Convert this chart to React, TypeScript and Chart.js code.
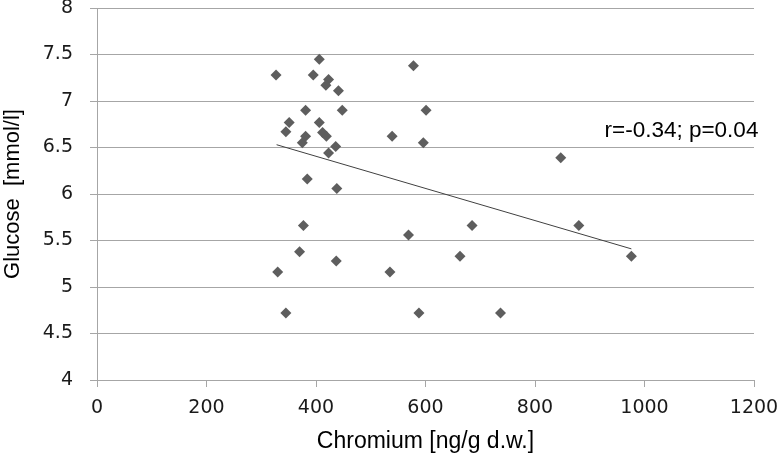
import React, { useEffect, useRef } from "react";
import { Chart, registerables } from "chart.js";

Chart.register(...registerables);

const chromium = [327, 406, 395, 423, 418, 441, 381, 448, 351, 406, 345, 381, 375, 412, 419, 436, 423, 384, 438, 377, 370, 330, 437, 345, 535, 578, 601, 539, 596, 847, 569, 685, 880, 663, 976, 588, 737];
const glucose = [7.28, 7.45, 7.28, 7.23, 7.17, 7.11, 6.9, 6.9, 6.77, 6.77, 6.67, 6.62, 6.55, 6.66, 6.62, 6.51, 6.44, 6.16, 6.06, 5.66, 5.38, 5.16, 5.28, 4.72, 5.16, 7.38, 6.9, 6.62, 6.55, 6.39, 5.56, 5.66, 5.66, 5.33, 5.33, 4.72, 4.72];
const trendX = [328, 976];
const trendY = [6.53, 5.41];
const xTickValues = [0, 200, 400, 600, 800, 1000, 1200];
const yTickValues = [4, 4.5, 5, 5.5, 6, 6.5, 7, 7.5, 8];
const statsText = "r=-0.34; p=0.04";
const xTitle = "Chromium [ng/g d.w.]";
const yTitle = "Glucose  [mmol/l]";

const GRID = "#a6a6a6";

const annotationPlugin = {
  id: "statsLabel",
  afterDatasetsDraw(chart: any) {
    const { ctx, scales } = chart;
    const x = scales.x.getPixelForValue(927);
    const y = scales.y.getPixelForValue(6.68);
    ctx.save();
    ctx.font = "22.5px 'Liberation Sans', Arial, sans-serif";
    ctx.fillStyle = "#000";
    ctx.textAlign = "left";
    ctx.textBaseline = "middle";
    ctx.fillText(statsText, x, y);
    ctx.restore();
  },
};

export default function App() {
  const ref = useRef<HTMLCanvasElement | null>(null);

  useEffect(() => {
    if (!ref.current) return;
    const points = chromium.map((c, i) => ({ x: c, y: glucose[i] }));
    const trend = trendX.map((c, i) => ({ x: c, y: trendY[i] }));
    const chart = new Chart(ref.current, {
      type: "scatter",
      data: {
        datasets: [
          {
            label: "data",
            data: points,
            pointStyle: "rectRot",
            pointRadius: 5.5,
            pointBackgroundColor: "#5e5e5e",
            pointBorderColor: "#5e5e5e",
            pointBorderWidth: 0,
            showLine: false,
          },
          {
            label: "trend",
            data: trend,
            showLine: true,
            borderColor: "#404040",
            borderWidth: 1,
            pointRadius: 0,
            fill: false,
          },
        ],
      },
      options: {
        responsive: false,
        animation: false,
        layout: { padding: { top: 8, right: 27, left: 0, bottom: 0 } },
        plugins: {
          legend: { display: false },
          tooltip: { enabled: false },
        },
        scales: {
          x: {
            type: "linear",
            min: 0,
            max: 1200,
            afterBuildTicks: (scale: any) => {
              scale.ticks = xTickValues.map((v) => ({ value: v }));
            },
            afterFit: (scale: any) => {
              scale.height = 76;
              scale.paddingLeft = 0;
              scale.paddingRight = 0;
            },
            grid: {
              drawOnChartArea: false,
              drawTicks: true,
              tickLength: 7,
              color: GRID,
            },
            border: { display: true, color: GRID, width: 1 },
            ticks: {
              padding: 10,
              color: "#1a1a1a",
              font: { family: "'DejaVu Sans', sans-serif", size: 19 },
              maxRotation: 0,
              callback: (v: any) => String(v),
            },
            title: {
              display: true,
              text: xTitle,
              color: "#000",
              font: { family: "'Liberation Sans', Arial, sans-serif", size: 23 },
              padding: { top: 0, bottom: 1 },
            },
          },
          y: {
            type: "linear",
            min: 4,
            max: 8,
            afterBuildTicks: (scale: any) => {
              scale.ticks = yTickValues.map((v) => ({ value: v }));
            },
            afterFit: (scale: any) => {
              scale.width = 97;
              scale.paddingTop = 0;
              scale.paddingBottom = 0;
            },
            grid: {
              drawTicks: true,
              tickLength: 7,
              color: GRID,
            },
            border: { display: true, color: GRID, width: 1 },
            ticks: {
              padding: 17,
              color: "#1a1a1a",
              font: { family: "'DejaVu Sans', sans-serif", size: 19 },
              callback: (v: any) => String(v),
            },
            title: {
              display: true,
              text: yTitle,
              color: "#000",
              font: { family: "'Liberation Sans', Arial, sans-serif", size: 22 },
              padding: { top: 0, bottom: 0 },
            },
          },
        },
      },
      plugins: [annotationPlugin],
    });
    return () => chart.destroy();
  }, []);

  return (
    <div style={{ position: "absolute", left: 0, top: 0, width: 781, height: 456, background: "#fff" }}>
      <canvas ref={ref} width={781} height={456} style={{ display: "block" }} />
    </div>
  );
}
